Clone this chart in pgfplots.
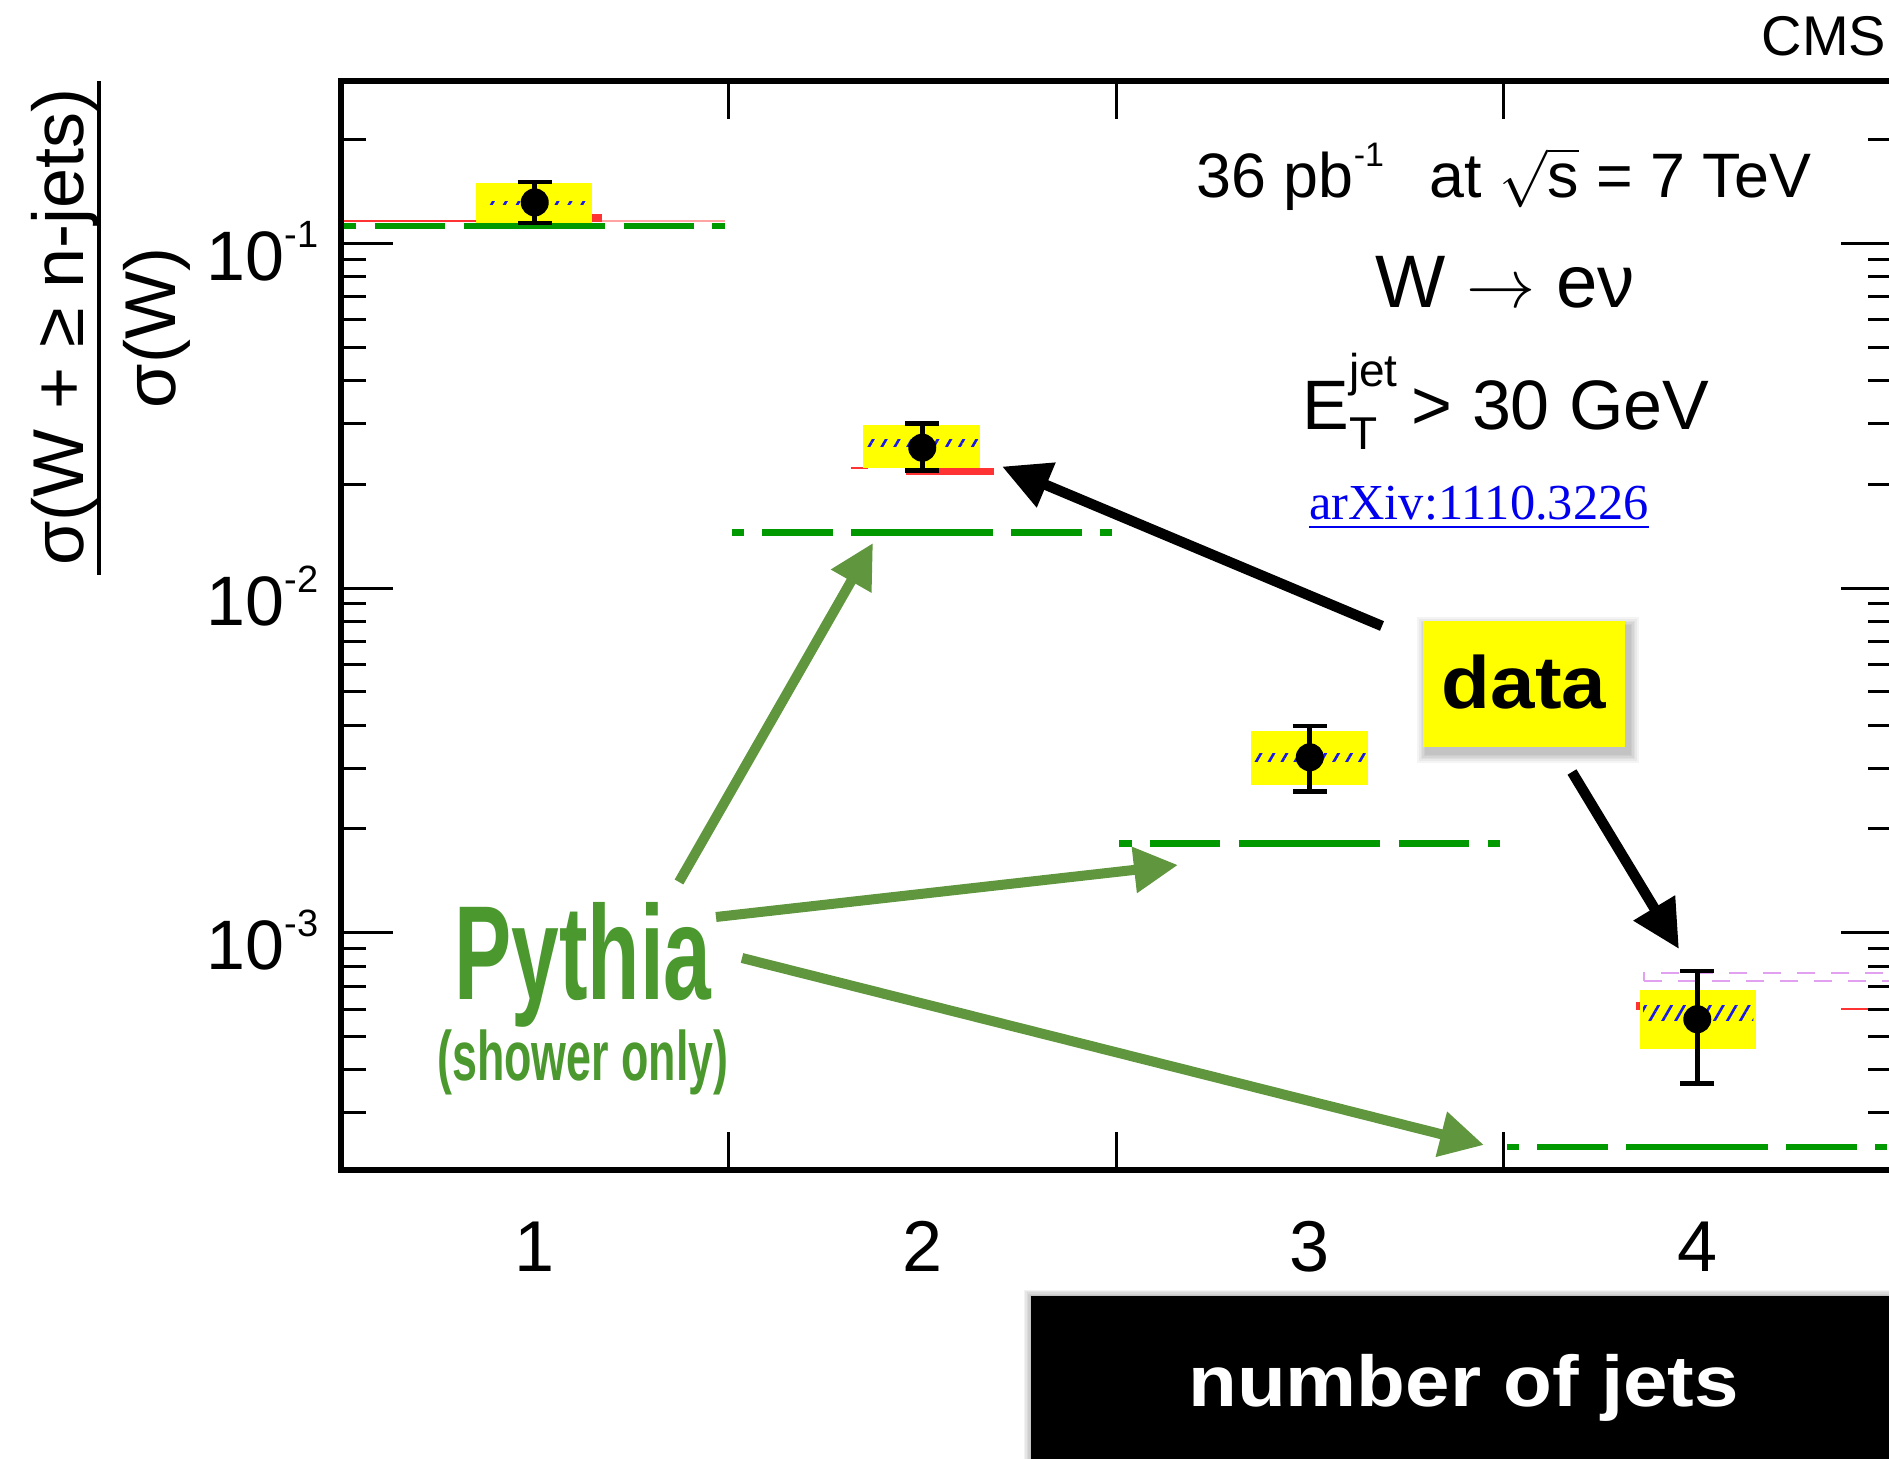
\documentclass[border=0pt]{standalone}
\usepackage{amsmath}
\usepackage{fontspec}
\setmainfont{Liberation Sans}
\usepackage{pgfplots}
\pgfplotsset{compat=1.18}
\usetikzlibrary{arrows.meta,patterns.meta}

\newfontfamily\datafont{Liberation Sans}[FakeStretch=1.08]
\newfontfamily\jetsfont{Liberation Sans}[FakeStretch=1.11]
\newfontfamily\pythiafont{Liberation Sans}[FakeStretch=0.64]
\newfontfamily\linkfont{Liberation Serif}

\definecolor{histgreen}{RGB}{0,153,0}
\definecolor{pythiagreen}{RGB}{74,152,46}
\definecolor{arrowgreen}{RGB}{96,150,62}
\definecolor{sysyellow}{RGB}{255,255,0}
\definecolor{theoryred}{RGB}{255,51,51}
\definecolor{hatchblue}{RGB}{25,25,235}
\definecolor{linkblue}{RGB}{0,0,238}
\definecolor{boxpink}{RGB}{225,160,240}

% dash-dot pattern of the shower-only histogram, one bin long
\tikzset{histdash/.style={dash pattern=on 3.1pt off 4.6pt on 17.6pt off 4.6pt on 35.4pt off 4.6pt on 17.6pt off 4.6pt on 3.1pt off 20pt}}

\newcommand{\tenpow}[1]{10\raisebox{8.25pt}{\fontsize{9.5}{9.5}\selectfont #1}}

\begin{document}
\begin{tikzpicture}
\begin{axis}[
  at={(0,0)}, anchor=south west,
  scale only axis, width=388pt, height=272.25pt,
  xmin=0.5, xmax=4.505,
  ymode=log, ymin=2.049e-4, ymax=0.2957,
  axis on top,
  axis line style={line width=1.3pt},
  tick style={line width=0.75pt, black},
  major tick length=13pt, minor tick length=6.3pt,
  xtick={1,2,3,4}, xticklabels={1,2,3,4},
  x tick style={draw=none},
  xticklabel style={anchor=base, inner sep=0pt, yshift=-25.25pt, font=\fontsize{18}{18}\selectfont},
  ytick={1e-3,1e-2,1e-1},
  yticklabels={\tenpow{-3},\tenpow{-2},\tenpow{-1}},
  minor ytick={3e-4,4e-4,5e-4,6e-4,7e-4,8e-4,9e-4,2e-3,3e-3,4e-3,5e-3,6e-3,7e-3,8e-3,9e-3,2e-2,3e-2,4e-2,5e-2,6e-2,7e-2,8e-2,9e-2,0.2},
  yticklabel style={anchor=base east, inner sep=0pt, xshift=-5.5pt, yshift=-9.25pt, font=\fontsize{17.5}{17.5}\selectfont},
]
% second prediction (partly hidden behind the systematic boxes)
\addplot[fill=theoryred, draw=none] coordinates {(0.85,0.1161) (1.173,0.1161) (1.173,0.1214) (0.85,0.1214)} -- cycle;
\addplot[theoryred, line width=0.6pt] coordinates {(0.5,0.1161) (1.173,0.1161)};
\addplot[theoryred!45, line width=0.4pt] coordinates {(1.173,0.1161) (1.49,0.1161)};
\addplot[theoryred, line width=0.6pt] coordinates {(1.815,0.02225) (1.86,0.02225)};
\addplot[fill=theoryred, draw=none] coordinates {(1.959,0.0213) (2.185,0.0213) (2.185,0.02225) (1.959,0.02225)} -- cycle;
\addplot[fill=theoryred, draw=none] coordinates {(3.841,5.97e-4) (3.851,5.97e-4) (3.851,6.3e-4) (3.841,6.3e-4)} -- cycle;
\addplot[theoryred, line width=0.6pt] coordinates {(4.372,6.0e-4) (4.51,6.0e-4)};
\addplot[boxpink, line width=0.5pt, dash pattern=on 4.5pt off 4pt] coordinates {(3.862,7.26e-4) (4.6,7.26e-4) (4.6,7.62e-4) (3.862,7.62e-4)} -- cycle;

% systematic uncertainty boxes
\addplot[fill=sysyellow, draw=none] coordinates {(0.848,0.1130) (1.147,0.1130) (1.147,0.1496) (0.848,0.1496)} -- cycle;
\addplot[fill=sysyellow, draw=none] coordinates {(1.846,0.02225) (2.148,0.02225) (2.148,0.02971) (1.846,0.02971)} -- cycle;
\addplot[fill=sysyellow, draw=none] coordinates {(2.849,0.002683) (3.150,0.002683) (3.150,0.003847) (2.849,0.003847)} -- cycle;
\addplot[fill=sysyellow, draw=none] coordinates {(3.851,4.59e-4) (4.152,4.59e-4) (4.152,6.82e-4) (3.851,6.82e-4)} -- cycle;

% Pythia, parton shower only
\addplot[histgreen, line width=1.7pt, histdash] coordinates {(0.508,0.1122) (1.49,0.1122)};
\addplot[histgreen, line width=1.7pt, histdash] coordinates {(1.508,0.01446) (2.49,0.01446)};
\addplot[histgreen, line width=1.7pt, histdash] coordinates {(2.508,0.001816) (3.49,0.001816)};
\addplot[histgreen, line width=1.7pt, histdash] coordinates {(3.508,2.39e-4) (4.49,2.39e-4)};

% hatched prediction band
\addplot[draw=none, pattern={Lines[angle=60,distance=2.8pt,line width=0.65pt]}, pattern color=hatchblue] coordinates {(0.873,0.1300) (1.134,0.1300) (1.134,0.1325) (0.873,0.1325)} -- cycle;
\addplot[draw=none, pattern={Lines[angle=60,distance=2.8pt,line width=0.65pt]}, pattern color=hatchblue] coordinates {(1.855,0.0257) (2.145,0.0257) (2.145,0.0270) (1.855,0.0270)} -- cycle;
\addplot[draw=none, pattern={Lines[angle=60,distance=2.8pt,line width=0.65pt]}, pattern color=hatchblue] coordinates {(2.855,0.00313) (3.145,0.00313) (3.145,0.00332) (2.855,0.00332)} -- cycle;
\addplot[draw=none, pattern={Lines[angle=60,distance=2.8pt,line width=0.65pt]}, pattern color=hatchblue] coordinates {(3.86,5.58e-4) (4.145,5.58e-4) (4.145,6.17e-4) (3.86,6.17e-4)} -- cycle;

% measured ratios
\addplot[black, only marks, mark=*, mark size=3.3pt,
  error bars/.cd, y dir=both, y explicit,
  error bar style={line width=1.2pt},
  error mark options={rotate=90, line width=1.2pt, mark size=4.3pt}]
coordinates {
  (1,0.1314)   += (0,0.0193)   -= (0,0.0168)
  (2,0.02553)  += (0,0.00452)  -= (0,0.00364)
  (3,0.003228) += (0,0.00075)  -= (0,0.000663)
  (4,5.61e-4)  += (0,2.13e-4)  -= (0,1.954e-4)
};
\end{axis}

% bin-edge ticks on the x axis
\begin{axis}[
  at={(0,0)}, anchor=south west,
  scale only axis, width=388pt, height=272.25pt,
  xmin=0.5, xmax=4.505, ymin=0, ymax=1,
  axis line style={draw=none},
  xtick={1.5,2.5,3.5}, xticklabels={}, ytick=\empty,
  major tick length=9.5pt, tick style={line width=0.75pt, black},
]
\end{axis}

\begin{scope}[x=0.25pt, y=-0.25pt, shift={(-85.25pt,292.5pt)}]
  % y-axis title as a fraction
  \node[rotate=90, anchor=base, inner sep=0pt, font=\fontsize{18}{18}\selectfont] at (84,327) {σ(W + ≥ n-jets)};
  \draw[line width=1.2pt] (99,81) -- (99,575);
  \node[rotate=90, anchor=base, inner sep=0pt, font=\fontsize{18}{18}\selectfont] at (176,328) {σ(W)};

  \node[anchor=base east, inner sep=0pt, font=\fontsize{14}{14}\selectfont] at (1887,56) {CMS};

  \node[anchor=base, inner sep=0pt, font=\fontsize{15.7}{15.7}\selectfont] at (1504,198)
    {36 pb\raisebox{0.5em}{\fontsize{8.5}{8.5}\selectfont -1}\hspace{0.45em} at $\sqrt{\text{s}}$ = 7 TeV};
  \node[anchor=base, inner sep=0pt, font=\fontsize{18.6}{18.6}\selectfont] at (1505,308)
    {W $\rightarrow$ eν};
  \node[anchor=base, inner sep=0pt, font=\fontsize{17.5}{17.5}\selectfont] at (1506,430)
    {E\makebox[0pt][l]{\raisebox{-0.28em}{\fontsize{11.5}{11.5}\selectfont T}}\raisebox{0.62em}{\fontsize{11.5}{11.5}\selectfont jet}\hspace{0.2em}> 30 GeV};
  \node[anchor=base, inner sep=0pt, text=linkblue, font=\linkfont\fontsize{12.6}{12.6}\selectfont] at (1479,520)
    {\underline{arXiv:1110.3226}};

  % data tag
  \foreach \i in {1,...,6}
    \fill[black, opacity=0.045] (1427-\i*1.6,627-\i*1.6) rectangle (1629+\i*1.6,753+\i*1.6);
  \fill[sysyellow] (1423,621) rectangle (1625,747);
  \node[anchor=base, inner sep=0pt, font=\datafont\bfseries\fontsize{18.5}{18.5}\selectfont] at (1524,709) {data};
  \draw[black, line width=2.6pt, -{Triangle[length=12pt,width=11.5pt]}] (1382,626) -- (1002,466.5);
  \draw[black, line width=2.6pt, -{Triangle[length=12pt,width=11.5pt]}] (1572,772) -- (1679,949);

  % Pythia tag
  \node[anchor=base, inner sep=0pt, text=pythiagreen, font=\pythiafont\bfseries\fontsize{33.5}{33.5}\selectfont] at (583,1000) {Pythia};
  \node[anchor=base, inner sep=0pt, text=pythiagreen, font=\pythiafont\bfseries\fontsize{17.5}{17.5}\selectfont] at (583,1080) {(shower only)};
  \draw[arrowgreen, line width=2.5pt, -{Triangle[length=11pt,width=11pt]}] (679,882) -- (873,543);
  \draw[arrowgreen, line width=2.5pt, -{Triangle[length=11pt,width=11pt]}] (716,917) -- (1178,865);
  \draw[arrowgreen, line width=2.5pt, -{Triangle[length=11pt,width=11pt]}] (742,958) -- (1484,1145);

  % x-axis title
  \foreach \i in {1,...,5}
    \fill[black, opacity=0.05] (1031-\i*1.5,1296-\i*1.2) rectangle (1900,1470);
  \fill[black] (1031,1296) rectangle (1900,1470);
  \node[anchor=base, inner sep=0pt, text=white, font=\jetsfont\bfseries\fontsize{18}{18}\selectfont] at (1463.5,1406.7) {number of jets};

  \pgfresetboundingbox
  \path[use as bounding box] (0,0) rectangle (1889,1459);
\end{scope}
\end{tikzpicture}
\end{document}
